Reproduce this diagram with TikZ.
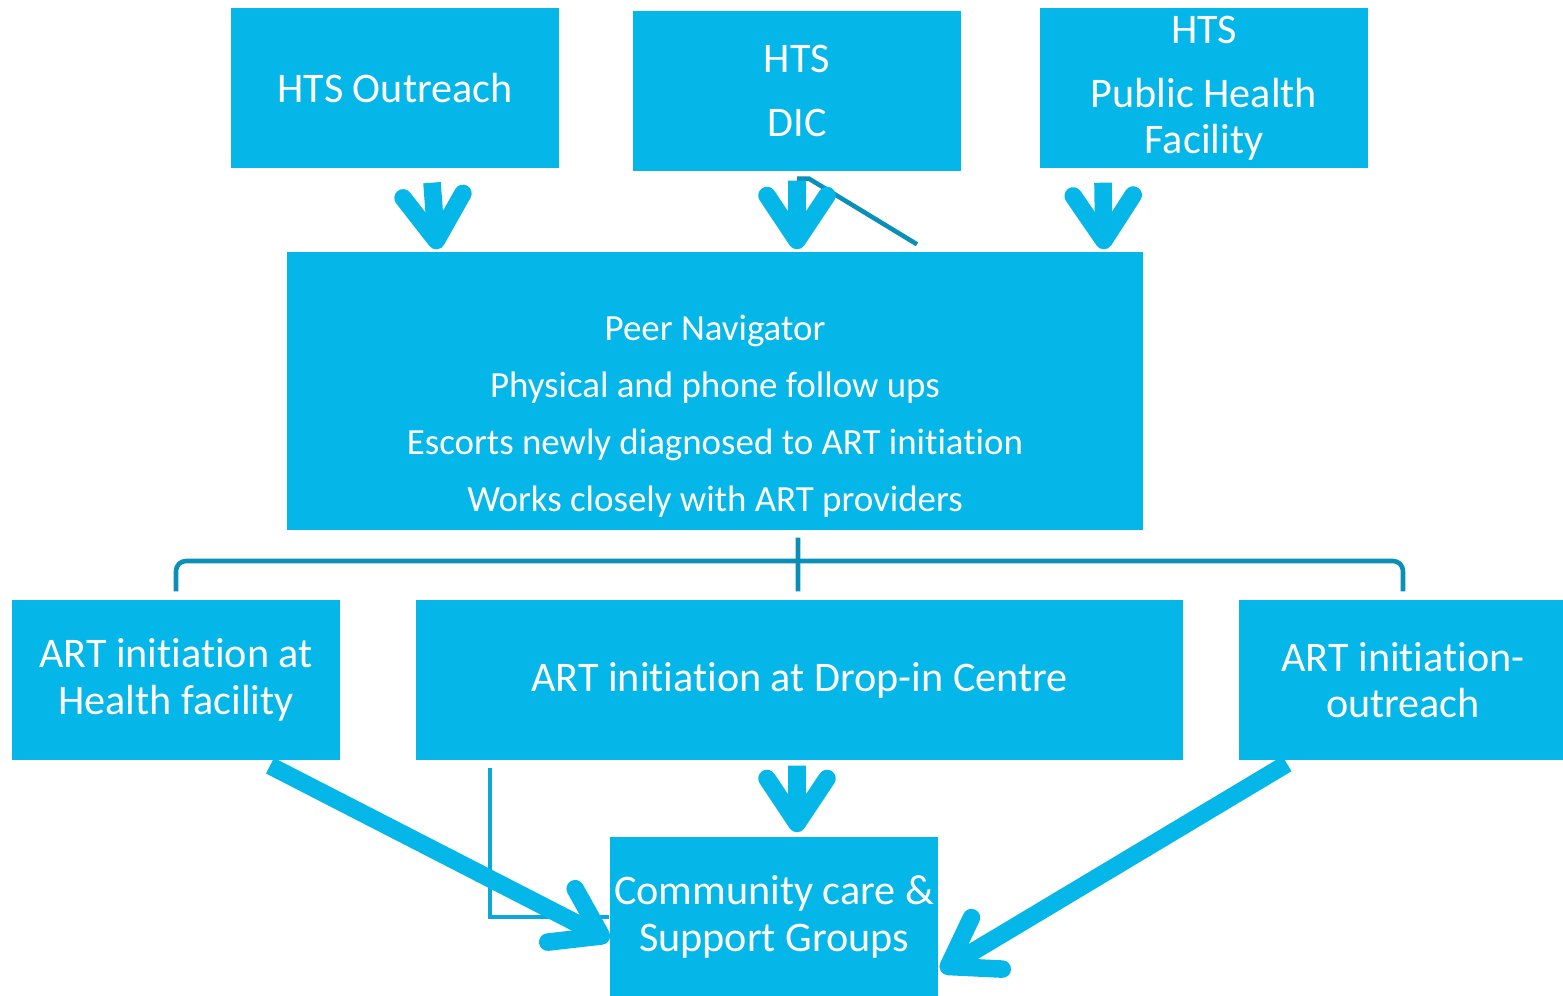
\documentclass[tikz,border=0pt]{standalone}
\usepackage{fontspec}
\setmainfont{Carlito}[Ligatures=CommonOff]
\usepackage{tikz}
\usetikzlibrary{arrows.meta,calc}
\definecolor{navblue}{HTML}{05B7E9}
\definecolor{navdark}{HTML}{0A8FB8}
\definecolor{navmid}{HTML}{0AA9D9}

\begin{document}
\begin{tikzpicture}[
	navbox/.style={fill=navblue, text=white, minimum width=3.28cm, minimum height=1.6cm, inner sep=0pt, align=center, font=\fontsize{12}{13.2}\selectfont},
	fatarrow/.style={navblue, line width=5pt, line cap=butt, -{Straight Barb[length=4.5mm, width=6mm, round]}},
	forklink/.style={navdark, line width=1.3pt},
	sidelink/.style={navmid, line width=1.1pt}
]
	%%%%% START %%%%%
	
	\useasboundingbox (0,0) rectangle (15.63,-9.96);
	
	\node[navbox] (outreach) at (3.95,-0.88) {HTS Outreach};
	\node[navbox] (dic) at (7.97,-0.91) {HTS\\[5pt]DIC};
	\node[navbox] (phf) at (12.04,-0.88) {HTS\\[5pt]Public Health\\Facility};
	
	\node[navbox, minimum width=8.56cm, minimum height=2.78cm, font=\fontsize{10.5}{16.2}\selectfont] (peer) at (7.15,-3.91) {\rule{0pt}{21.5pt}Peer Navigator\\Physical and phone follow ups\\Escorts newly diagnosed to ART initiation\\Works closely with ART providers};
	
	\node[navbox] (artHF) at (1.76,-6.80) {ART initiation at\\Health facility};
	\node[navbox, minimum width=7.67cm] (artDIC) at (7.995,-6.80) {ART initiation at Drop-in Centre};
	\node[navbox] (artOut) at (14.03,-6.80) {ART initiation-\\outreach};
	
	\node[navbox] (community) at (7.74,-9.17) {Community care \&\\Support Groups};
	
	\coordinate (fork) at (7.98,-5.61);
	
	\draw[forklink] ([yshift=-0.7mm]dic.south) -- ++(0.12,0) -- ([xshift=20.2mm,yshift=0.7mm]peer.north);
	\draw[forklink] ([xshift=8.3mm,yshift=-0.7mm]peer.south) -- ([xshift=-0.15mm,yshift=0.8mm]artDIC.north);
	\draw[forklink, rounded corners=1mm] ([yshift=0.8mm]artHF.north) |- (fork) -| ([yshift=0.8mm]artOut.north);
	\draw[sidelink] ([xshift=-30.95mm,yshift=-0.7mm]artDIC.south) |- (community.west);
	
	\draw[fatarrow] ([xshift=3.7mm,yshift=-1.4mm]outreach.south) -- ([xshift=-27.8mm,yshift=0.2mm]peer.north);
	\draw[fatarrow] ([yshift=-0.9mm]dic.south) -- ([xshift=8.2mm,yshift=0.2mm]peer.north);
	\draw[fatarrow] ([xshift=-10.1mm,yshift=-1.4mm]phf.south) -- ([xshift=38.9mm,yshift=0.2mm]peer.north);
	
	\draw[fatarrow] ([xshift=-0.25mm,yshift=-0.5mm]artDIC.south) -- ([xshift=2.3mm,yshift=0.4mm]community.north);
	\draw[fatarrow] ([xshift=9.4mm,yshift=-0.5mm]artHF.south) -- ([yshift=-2.3mm]community.west);
	\draw[fatarrow] ([xshift=-11.6mm,yshift=-0.3mm]artOut.south) -- ([xshift=0.2mm,yshift=-5.4mm]community.east);
	
	%%%%% END %%%%%
\end{tikzpicture}
\end{document}
